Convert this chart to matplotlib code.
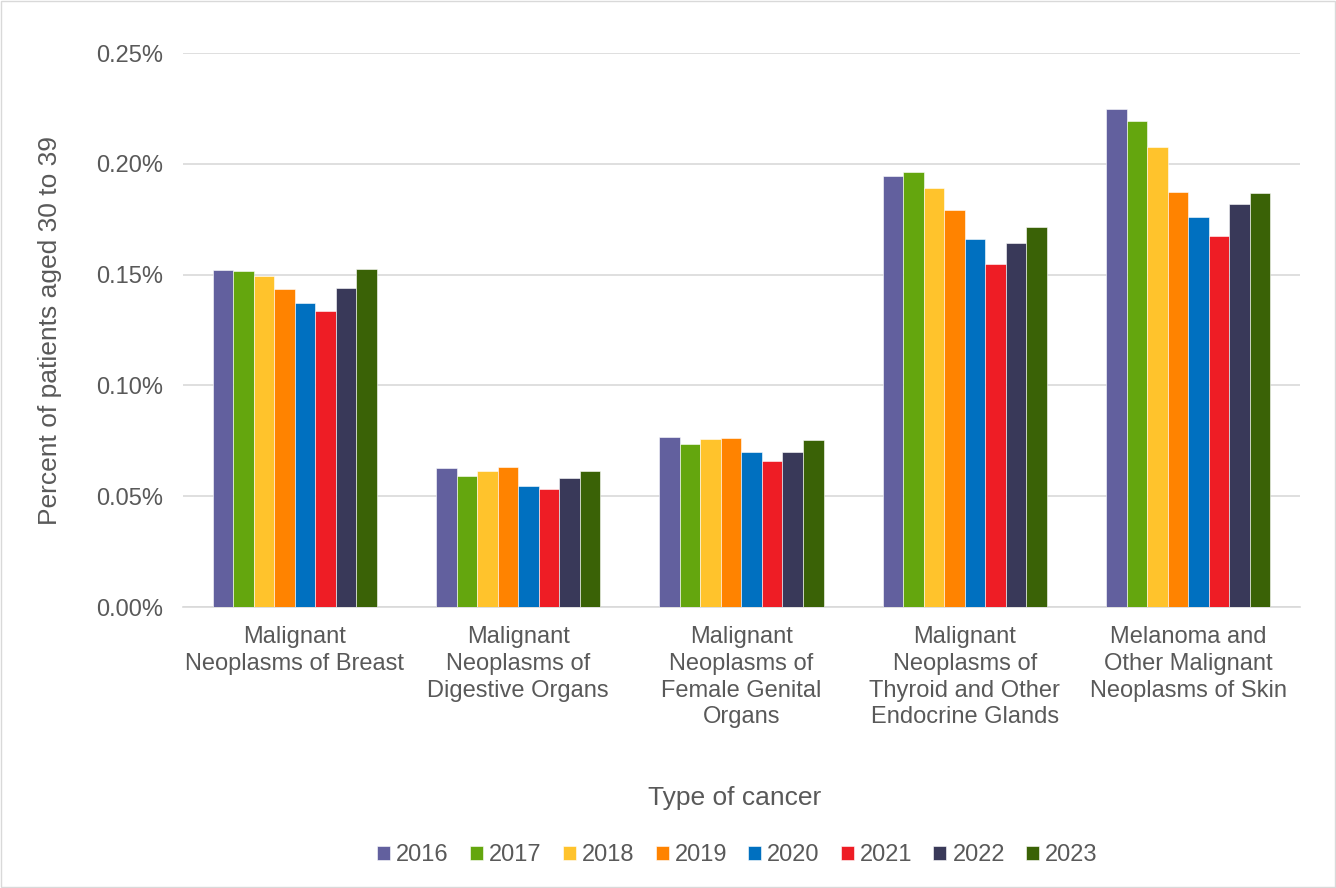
import numpy as np
import matplotlib.pyplot as plt
from matplotlib.patches import Rectangle

plt.rcParams['font.family'] = ['Liberation Sans', 'DejaVu Sans']

categories = [
    "Malignant\nNeoplasms of Breast",
    "Malignant\nNeoplasms of\nDigestive Organs",
    "Malignant\nNeoplasms of\nFemale Genital\nOrgans",
    "Malignant\nNeoplasms of\nThyroid and Other\nEndocrine Glands",
    "Melanoma and\nOther Malignant\nNeoplasms of Skin",
]
years = ["2016", "2017", "2018", "2019", "2020", "2021", "2022", "2023"]

# percent of patients aged 30 to 39, one list per year (order matches categories)
pct_2016 = [0.1521, 0.0627, 0.0767, 0.1945, 0.2246]
pct_2017 = [0.1515, 0.0591, 0.0736, 0.1962, 0.2192]
pct_2018 = [0.1495, 0.0612, 0.0760, 0.1891, 0.2076]
pct_2019 = [0.1436, 0.0632, 0.0761, 0.1790, 0.1871]
pct_2020 = [0.1370, 0.0546, 0.0699, 0.1659, 0.1759]
pct_2021 = [0.1334, 0.0534, 0.0660, 0.1546, 0.1674]
pct_2022 = [0.1440, 0.0581, 0.0699, 0.1643, 0.1819]
pct_2023 = [0.1525, 0.0615, 0.0752, 0.1713, 0.1867]

series = [pct_2016, pct_2017, pct_2018, pct_2019, pct_2020, pct_2021, pct_2022, pct_2023]
colors = ["#62609E", "#64A60E", "#FFC32C", "#FF8300", "#0070C0", "#EE1D25", "#393959", "#3A6206"]

text_color = "#595959"
grid_color = "#D9D9D9"

fig = plt.figure(figsize=(13.36, 8.88), dpi=100)
ax = fig.add_axes([0.137, 0.3164, 0.836, 0.6239])

x = np.arange(len(categories))
bar_w = 0.0918
for i, (vals, col) in enumerate(zip(series, colors)):
    offs = (i - 3.5) * bar_w
    ax.bar(x + offs, vals, width=bar_w, color=col, label=years[i], zorder=3,
           edgecolor="white", linewidth=0.4)

ax.set_xlim(-0.5, len(categories) - 0.5)
ax.set_ylim(0, 0.25)
ax.set_yticks(np.arange(0, 0.2501, 0.05))
ax.set_yticklabels([f"{v:.2f}%" for v in np.arange(0, 0.2501, 0.05)])
ax.set_xticks(x)
ax.set_xticklabels(categories, linespacing=1.27)

ax.grid(axis="y", color=grid_color, linewidth=1.2, zorder=0)
for s in ["top", "right", "left"]:
    ax.spines[s].set_visible(False)
ax.spines["bottom"].set_color(grid_color)
ax.spines["bottom"].set_linewidth(1.2)
ax.tick_params(axis="both", length=0, labelsize=17, colors=text_color)
ax.tick_params(axis="x", pad=14)
ax.tick_params(axis="y", pad=14)

ax.set_ylabel("Percent of patients aged 30 to 39", fontsize=19, color=text_color, labelpad=25)
fig.text(0.5495, 0.0935, "Type of cancer", fontsize=19, color=text_color, ha="center")

leg = fig.legend(loc="center", bbox_to_anchor=(0.552, 0.037), ncol=8, frameon=False,
                 fontsize=17, handlelength=0.55, handleheight=0.55, handletextpad=0.25,
                 columnspacing=0.9)
for t in leg.get_texts():
    t.set_color(text_color)

# thin frame around the whole chart
fig.patches.append(Rectangle((0.001, 0.001), 0.998, 0.998, transform=fig.transFigure,
                             fill=False, edgecolor=grid_color, linewidth=1))

fig.savefig("out.png", dpi=100)
